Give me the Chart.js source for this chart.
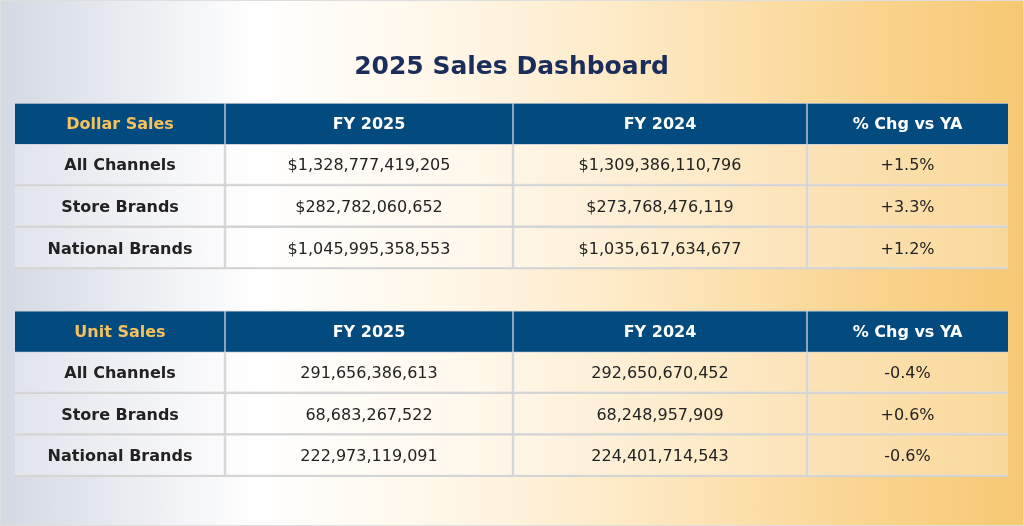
<!DOCTYPE html>
<html>
<head>
<meta charset="utf-8">
<script src="https://cdn.jsdelivr.net/npm/chart.js@4.4.1/dist/chart.umd.min.js"></script>
<style>
  html, body { margin: 0; padding: 0; }
  body {
    width: 1024px; height: 526px; overflow: hidden;
    background: linear-gradient(90deg, #d3d8e3 0%, #ffffff 25%, #fff6e6 45%, #fde6bc 65%, #fad48f 85%, #f6c872 100%);
  }
  .wrap { position: relative; width: 1024px; height: 526px; box-sizing: border-box; border: 1px solid #dedede; }
</style>
</head>
<body>
<div class="wrap"><canvas id="dash"></canvas></div>
<script>
// rows of the grid, top to bottom ('' = spacer between the two tables)
const rowKeys     = ['dollarHead', 'd1', 'd2', 'd3', 'gap', 'unitHead', 'u1', 'u2', 'u3'];
const headerRows  = ['dollarHead', 'unitHead'];
const columnNames = ['FY 2025', 'FY 2024', '% Chg vs YA'];
const segments    = ['All Channels', 'Store Brands', 'National Brands'];

const dollarFY25 = ['$1,328,777,419,205', '$282,782,060,652', '$1,045,995,358,553'];
const dollarFY24 = ['$1,309,386,110,796', '$273,768,476,119', '$1,035,617,634,677'];
const dollarChg  = ['+1.5%', '+3.3%', '+1.2%'];

const unitFY25 = ['291,656,386,613', '68,683,267,522', '222,973,119,091'];
const unitFY24 = ['292,650,670,452', '68,248,957,909', '224,401,714,543'];
const unitChg  = ['-0.4%', '+0.6%', '-0.6%'];

// column edges on the x scale (layout only)
const COL_EDGES = [0, 210, 498, 792, 993];

const NAVY = '#034a7e';
const GOLD = '#f6c15f';
const LINE = '#d3d3d3';

// text for every cell: cellText[row][col]
const cellText = [
  ['Dollar Sales', ...columnNames],
  ...segments.map((s, i) => [s, dollarFY25[i], dollarFY24[i], dollarChg[i]]),
  ['', '', '', ''],
  ['Unit Sales', ...columnNames],
  ...segments.map((s, i) => [s, unitFY25[i], unitFY24[i], unitChg[i]])
];

function isHead(k) { return headerRows.includes(k); }

const datasets = COL_EDGES.slice(0, -1).map((start, c) => ({
  label: 'col' + c,
  data: rowKeys.map(k => k === 'gap' ? null : [start, COL_EDGES[c + 1]]),
  backgroundColor: rowKeys.map(k => isHead(k) ? NAVY : 'rgba(255,255,255,0.28)'),
  borderColor: rowKeys.map(k => isHead(k) ? '#c9ced8' : LINE),
  borderWidth: rowKeys.map(k => isHead(k)
    ? { top: 1, bottom: 1, left: c === 0 ? 0 : 1, right: c === 3 ? 0 : 1 }
    : { top: 0, bottom: 2, left: c === 0 ? 0 : 1, right: c === 3 ? 0 : 1 }),
  borderSkipped: false,
  categoryPercentage: 1,
  barPercentage: 1,
  grouped: false
}));

const cellLabels = {
  id: 'cellLabels',
  afterDatasetsDraw(chart) {
    const ctx = chart.ctx;
    ctx.save();
    ctx.textAlign = 'center';
    ctx.textBaseline = 'middle';
    chart.data.datasets.forEach((ds, c) => {
      chart.getDatasetMeta(c).data.forEach((bar, r) => {
        const txt = cellText[r][c];
        if (!txt) return;
        const head = isHead(rowKeys[r]);
        if (head) {
          ctx.fillStyle = c === 0 ? GOLD : '#ffffff';
          ctx.font = 'bold 16px "DejaVu Sans", Verdana, sans-serif';
        } else {
          ctx.fillStyle = '#222222';
          ctx.font = (c === 0 ? 'bold ' : '') + '16px "DejaVu Sans", Verdana, sans-serif';
        }
        ctx.fillText(txt, (bar.x + bar.base) / 2, bar.y + 1);
      });
    });
    ctx.restore();
  }
};

new Chart(document.getElementById('dash'), {
  type: 'bar',
  data: { labels: rowKeys, datasets },
  options: {
    indexAxis: 'y',
    responsive: true,
    maintainAspectRatio: false,
    animation: false,
    layout: { padding: { top: 0, left: 14, right: 15, bottom: 48 } },
    scales: {
      x: { type: 'linear', min: COL_EDGES[0], max: COL_EDGES[COL_EDGES.length - 1], display: false },
      y: { type: 'category', display: false, offset: true }
    },
    plugins: {
      legend: { display: false },
      tooltip: { enabled: false },
      title: {
        display: true,
        text: '2025 Sales Dashboard',
        color: '#1b2d5a',
        font: { family: '"DejaVu Sans", Verdana, sans-serif', size: 25, weight: 'bold', lineHeight: 1.2 },
        padding: { top: 51, bottom: 21 }
      }
    }
  },
  plugins: [cellLabels]
});
</script>
</body>
</html>
